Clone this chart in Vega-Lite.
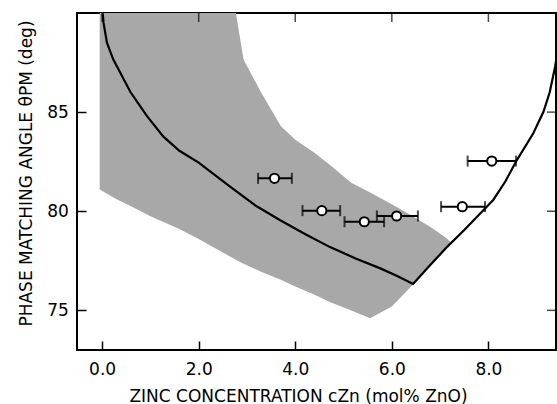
{
  "$schema": "https://vega.github.io/schema/vega-lite/v6.json",
  "width": 479,
  "height": 337,
  "autosize": "none",
  "padding": {"left": 77, "top": 13, "right": 1, "bottom": 54},
  "background": "white",
  "config": {
    "view": {"stroke": "black", "strokeWidth": 2},
    "font": "DejaVu Sans",
    "axis": {
      "domain": false,
      "grid": false,
      "labelFont": "DejaVu Sans",
      "labelFontSize": 17,
      "labelColor": "black",
      "titleFont": "DejaVu Sans",
      "titleFontSize": 17,
      "titleFontWeight": "normal",
      "titleColor": "black"
    }
  },
  "datasets": {
    "band": [
      {"x": -0.05, "upper": 90, "lower": 81.1},
      {"x": 0.3, "upper": 90, "lower": 80.6},
      {"x": 0.6, "upper": 90, "lower": 80.25},
      {"x": 1.0, "upper": 90, "lower": 79.75},
      {"x": 1.6, "upper": 90, "lower": 79.1},
      {"x": 2.0, "upper": 90, "lower": 78.6},
      {"x": 2.66, "upper": 90, "lower": 77.7},
      {"x": 2.77, "upper": 90, "lower": 77.55},
      {"x": 2.93, "upper": 87.66, "lower": 77.35},
      {"x": 3.29, "upper": 86.0, "lower": 76.95},
      {"x": 3.7, "upper": 84.3, "lower": 76.55},
      {"x": 4.0, "upper": 83.6, "lower": 76.2},
      {"x": 4.39, "upper": 82.96, "lower": 75.8},
      {"x": 4.74, "upper": 82.3, "lower": 75.4},
      {"x": 5.15, "upper": 81.45, "lower": 75.0},
      {"x": 5.55, "upper": 80.95, "lower": 74.6},
      {"x": 6.0, "upper": 80.35, "lower": 75.2},
      {"x": 6.4, "upper": 79.8, "lower": 76.2},
      {"x": 6.8, "upper": 79.2, "lower": 77.25},
      {"x": 7.1, "upper": 78.7, "lower": 78.0},
      {"x": 7.24, "upper": 78.4, "lower": 78.4}
    ],
    "curve": [
      {"x": -0.01, "y": 90.6},
      {"x": 0.03, "y": 89.5},
      {"x": 0.1, "y": 88.5},
      {"x": 0.23, "y": 87.66},
      {"x": 0.45, "y": 86.65},
      {"x": 0.59, "y": 86.0},
      {"x": 0.93, "y": 84.8},
      {"x": 1.27, "y": 83.76},
      {"x": 1.6, "y": 83.05},
      {"x": 2.0, "y": 82.45},
      {"x": 2.65, "y": 81.24},
      {"x": 3.2, "y": 80.25},
      {"x": 3.68, "y": 79.56},
      {"x": 4.2, "y": 78.85},
      {"x": 4.72, "y": 78.19},
      {"x": 5.25, "y": 77.62},
      {"x": 5.75, "y": 77.13},
      {"x": 6.1, "y": 76.75},
      {"x": 6.44, "y": 76.33},
      {"x": 6.8, "y": 77.3},
      {"x": 7.14, "y": 78.19},
      {"x": 7.5, "y": 79.05},
      {"x": 7.83, "y": 79.89},
      {"x": 8.1, "y": 80.57},
      {"x": 8.35, "y": 81.5},
      {"x": 8.59, "y": 82.58},
      {"x": 8.93, "y": 83.93},
      {"x": 9.14, "y": 85.02},
      {"x": 9.27, "y": 86.0},
      {"x": 9.38, "y": 87.28},
      {"x": 9.5, "y": 89.0}
    ],
    "points": [
      {"x": 3.57, "y": 81.66, "lo": 3.23, "hi": 3.93},
      {"x": 4.55, "y": 80.03, "lo": 4.15, "hi": 4.93},
      {"x": 5.43, "y": 79.47, "lo": 5.02, "hi": 5.84},
      {"x": 6.1, "y": 79.76, "lo": 5.69, "hi": 6.54},
      {"x": 7.46, "y": 80.23, "lo": 7.02, "hi": 7.93},
      {"x": 8.07, "y": 82.53, "lo": 7.57, "hi": 8.57}
    ],
    "xticks": [{"v": 0}, {"v": 2}, {"v": 4}, {"v": 6}, {"v": 8}],
    "yticks": [{"v": 75}, {"v": 80}, {"v": 85}]
  },
  "layer": [
    {
      "data": {"name": "band"},
      "mark": {"type": "area", "color": "#a8a8a8", "clip": true},
      "encoding": {
        "x": {
          "field": "x", "type": "quantitative",
          "title": "ZINC CONCENTRATION cZn (mol% ZnO)",
          "scale": {"domain": [-0.52, 9.4], "nice": false, "zero": false},
          "axis": {
            "orient": "bottom",
            "offset": -9,
            "values": [0, 2, 4, 6, 8],
            "format": ".1f",
            "ticks": true,
            "tickSize": 9,
            "tickWidth": 1.5,
            "tickColor": "black",
            "labelPadding": 11.5,
            "labelFlush": false,
            "titleX": 221,
            "titleY": 60,
            "titleBaseline": "alphabetic",
            "titleAlign": "center"
          }
        },
        "y": {
          "field": "upper", "type": "quantitative",
          "title": "PHASE MATCHING ANGLE θPM (deg)",
          "scale": {"domain": [73, 90], "nice": false, "zero": false},
          "axis": {
            "orient": "left",
            "offset": -9,
            "values": [75, 80, 85],
            "ticks": true,
            "tickSize": 9,
            "tickWidth": 1.5,
            "tickColor": "black",
            "labelPadding": 8.7,
            "titleX": -55,
            "titleY": 160,
            "titleAngle": -90,
            "titleBaseline": "alphabetic",
            "titleAlign": "center"
          }
        },
        "y2": {"field": "lower"}
      }
    },
    {
      "data": {"name": "curve"},
      "mark": {"type": "line", "color": "black", "strokeWidth": 2.2, "clip": true},
      "encoding": {
        "x": {"field": "x", "type": "quantitative"},
        "y": {"field": "y", "type": "quantitative"}
      }
    },
    {
      "data": {"name": "points"},
      "mark": {"type": "errorbar", "color": "black", "thickness": 2, "ticks": {"size": 11, "thickness": 2}},
      "encoding": {
        "x": {"field": "lo", "type": "quantitative", "title": "ZINC CONCENTRATION cZn (mol% ZnO)"},
        "x2": {"field": "hi"},
        "y": {"field": "y", "type": "quantitative", "title": "PHASE MATCHING ANGLE θPM (deg)"}
      }
    },
    {
      "data": {"name": "points"},
      "mark": {"type": "point", "shape": "circle", "filled": false, "fill": "white", "fillOpacity": 1, "stroke": "black", "strokeWidth": 2, "size": 85, "opacity": 1},
      "encoding": {
        "x": {"field": "x", "type": "quantitative"},
        "y": {"field": "y", "type": "quantitative"}
      }
    },
    {
      "data": {"name": "xticks"},
      "mark": {"type": "tick", "orient": "vertical", "color": "black", "size": 18, "thickness": 1.5, "clip": true},
      "encoding": {
        "x": {"field": "v", "type": "quantitative", "title": "ZINC CONCENTRATION cZn (mol% ZnO)"},
        "y": {"datum": 90, "type": "quantitative", "title": "PHASE MATCHING ANGLE θPM (deg)"}
      }
    },
    {
      "data": {"name": "yticks"},
      "mark": {"type": "tick", "orient": "horizontal", "color": "black", "size": 18, "thickness": 1.5, "clip": true},
      "encoding": {
        "y": {"field": "v", "type": "quantitative", "title": "PHASE MATCHING ANGLE θPM (deg)"},
        "x": {"datum": 9.4, "type": "quantitative", "title": "ZINC CONCENTRATION cZn (mol% ZnO)"}
      }
    }
  ]
}
